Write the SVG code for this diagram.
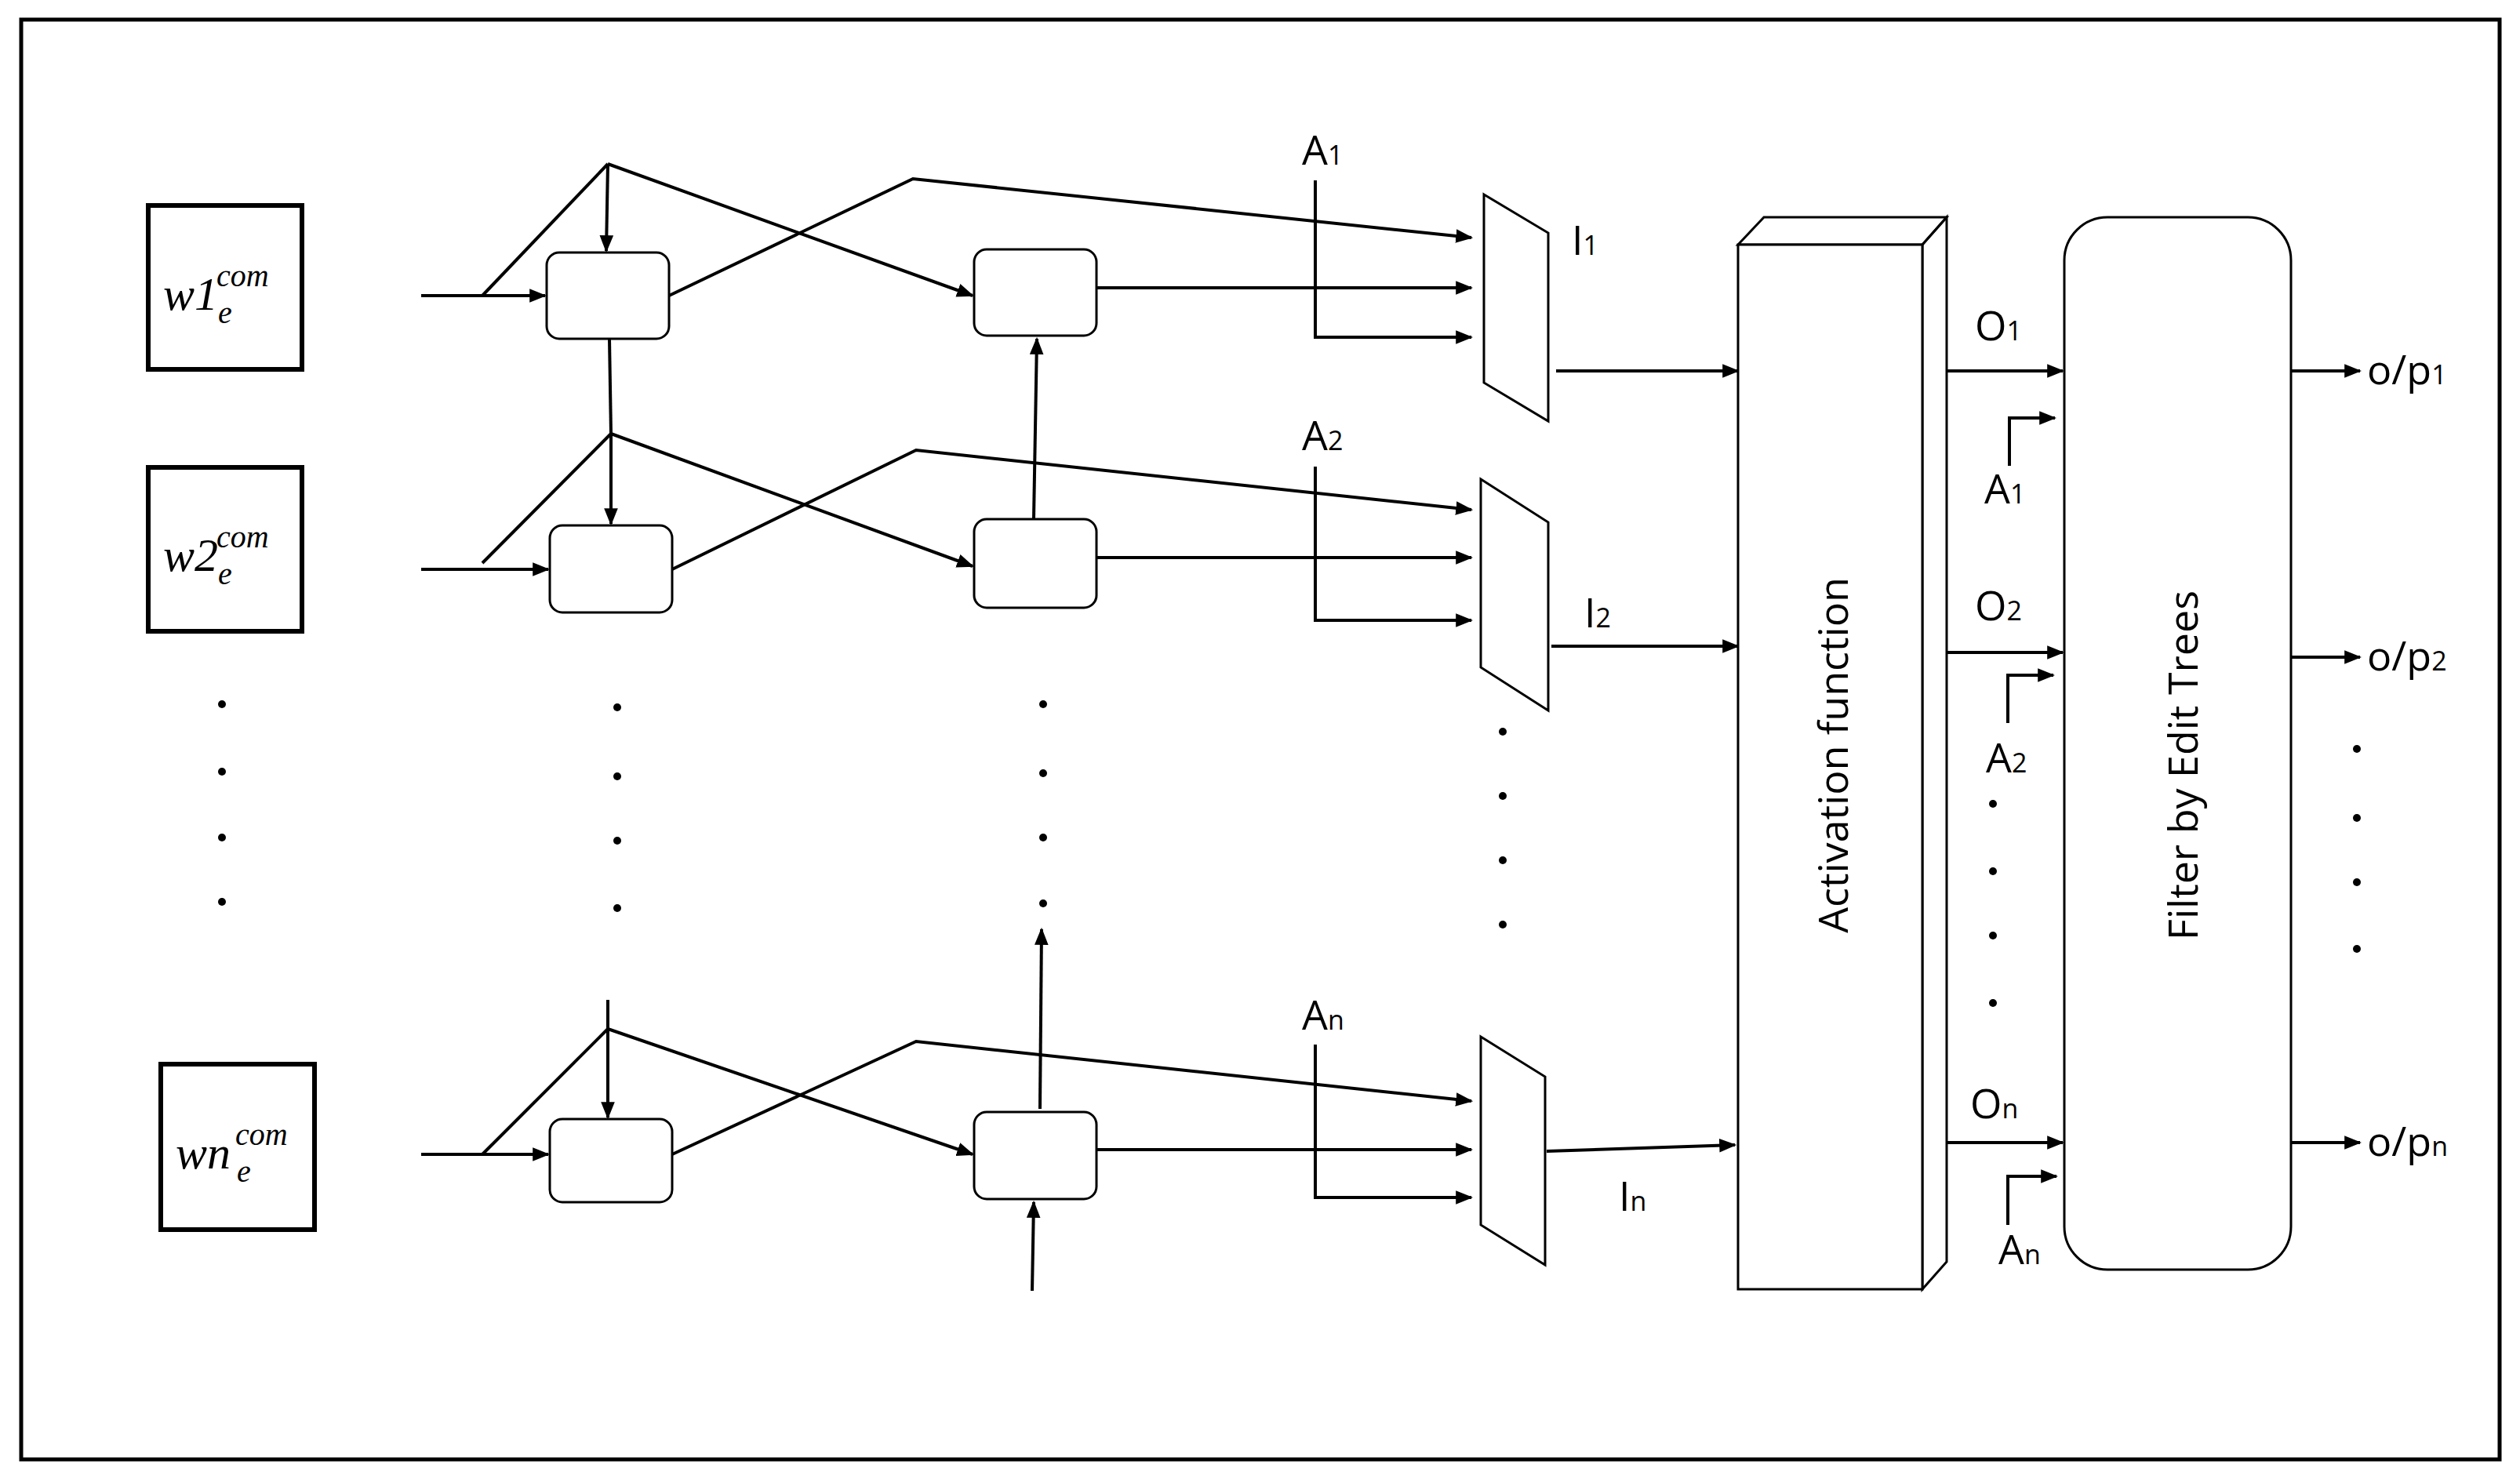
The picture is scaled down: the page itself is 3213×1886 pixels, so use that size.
<svg xmlns="http://www.w3.org/2000/svg" width="3213" height="1886" viewBox="0 0 3213 1886">
<style>
.l{fill:none;stroke:#000;stroke-width:4}
.a{fill:none;stroke:#000;stroke-width:4}
.t{fill:none;stroke:#000;stroke-width:3}
.lb{font-family:"Open Sans","Liberation Sans",Arial,sans-serif;font-size:52px;fill:#000}
.sb{font-size:34px}
.m{font-family:"Liberation Serif","Times New Roman",serif;font-style:italic;fill:#000}
.dot{fill:#000}
</style>
<defs>
<marker id="ah" viewBox="0 0 10 10" refX="9" refY="5" markerWidth="22" markerHeight="22" markerUnits="userSpaceOnUse" orient="auto">
<path d="M0,1 L10,5 L0,9 z" fill="#000"/>
</marker>
</defs>
<rect width="3213" height="1886" fill="#fff"/>
<rect x="27" y="25" width="3160" height="1836" fill="none" stroke="#000" stroke-width="5"/>

<g id="connectors">
<line class="a" marker-end="url(#ah)" x1="537" y1="377" x2="695" y2="377"/>
<line class="a" marker-end="url(#ah)" x1="537" y1="726" x2="699" y2="726"/>
<line class="a" marker-end="url(#ah)" x1="537" y1="1472" x2="699" y2="1472"/>
<line class="l" x1="615" y1="377" x2="775" y2="209"/>
<line class="a" marker-end="url(#ah)" x1="775" y1="209" x2="773" y2="320"/>
<line class="a" marker-end="url(#ah)" x1="775" y1="209" x2="1240" y2="377"/>
<polyline class="a" marker-end="url(#ah)" points="853,377 1164,228 1876,303"/>
<line class="a" marker-end="url(#ah)" x1="1398" y1="367" x2="1876" y2="367"/>
<polyline class="a" marker-end="url(#ah)" points="1677,230 1677,430 1876,430"/>
<line class="a" marker-end="url(#ah)" x1="1984" y1="473" x2="2216" y2="473"/>

<line class="l" x1="777" y1="432" x2="779" y2="553"/>
<line class="a" marker-end="url(#ah)" x1="779" y1="553" x2="779" y2="668"/>
<line class="l" x1="615" y1="718" x2="779" y2="553"/>
<line class="a" marker-end="url(#ah)" x1="779" y1="553" x2="1240" y2="722"/>
<polyline class="a" marker-end="url(#ah)" points="857,726 1168,574 1876,650"/>
<line class="a" marker-end="url(#ah)" x1="1398" y1="711" x2="1876" y2="711"/>
<polyline class="a" marker-end="url(#ah)" points="1677,595 1677,791 1876,791"/>
<line class="a" marker-end="url(#ah)" x1="1978" y1="824" x2="2216" y2="824"/>
<line class="a" marker-end="url(#ah)" x1="1318" y1="662" x2="1322" y2="432"/>

<line class="l" x1="775" y1="1275" x2="775" y2="1312"/>
<line class="a" marker-end="url(#ah)" x1="775" y1="1312" x2="775" y2="1425"/>
<line class="l" x1="615" y1="1472" x2="775" y2="1312"/>
<line class="a" marker-end="url(#ah)" x1="775" y1="1312" x2="1240" y2="1472"/>
<polyline class="a" marker-end="url(#ah)" points="857,1472 1168,1328 1876,1404"/>
<line class="a" marker-end="url(#ah)" x1="1398" y1="1466" x2="1876" y2="1466"/>
<polyline class="a" marker-end="url(#ah)" points="1677,1332 1677,1527 1876,1527"/>
<line class="a" marker-end="url(#ah)" x1="1972" y1="1468" x2="2212" y2="1460"/>
<line class="a" marker-end="url(#ah)" x1="1326" y1="1414" x2="1328" y2="1185"/>
<line class="a" marker-end="url(#ah)" x1="1316" y1="1646" x2="1318" y2="1533"/>

<line class="a" marker-end="url(#ah)" x1="2482" y1="473" x2="2630" y2="473"/>
<polyline class="a" marker-end="url(#ah)" points="2562,594 2562,533 2620,533"/>
<line class="a" marker-end="url(#ah)" x1="2482" y1="832" x2="2630" y2="832"/>
<polyline class="a" marker-end="url(#ah)" points="2560,922 2560,861 2618,861"/>
<line class="a" marker-end="url(#ah)" x1="2482" y1="1457" x2="2630" y2="1457"/>
<polyline class="a" marker-end="url(#ah)" points="2560,1562 2560,1500 2622,1500"/>
<line class="a" marker-end="url(#ah)" x1="2921" y1="473" x2="3009" y2="473"/>
<line class="a" marker-end="url(#ah)" x1="2921" y1="838" x2="3009" y2="838"/>
<line class="a" marker-end="url(#ah)" x1="2921" y1="1457" x2="3009" y2="1457"/>
</g>

<g id="w1"><rect x="189" y="262" width="196" height="209" fill="#fff" stroke="#000" stroke-width="6"/>
<text class="m" x="208" y="395" font-size="60">w1</text><text class="m" x="276" y="365" font-size="40">com</text><text class="m" x="278" y="412" font-size="40">e</text></g>
<g id="w2"><rect x="189" y="596" width="196" height="209" fill="#fff" stroke="#000" stroke-width="6"/>
<text class="m" x="208" y="728" font-size="60">w2</text><text class="m" x="276" y="698" font-size="40">com</text><text class="m" x="278" y="745" font-size="40">e</text></g>
<g id="wn"><rect x="205" y="1357" width="196" height="211" fill="#fff" stroke="#000" stroke-width="6"/>
<text class="m" x="224" y="1490" font-size="60">wn</text><text class="m" x="300" y="1460" font-size="40">com</text><text class="m" x="302" y="1507" font-size="40">e</text></g>

<g id="a1"><rect x="697" y="322" width="156" height="110" rx="16" fill="#fff" stroke="#000" stroke-width="3"/></g>
<g id="a2"><rect x="701" y="670" width="156" height="111" rx="16" fill="#fff" stroke="#000" stroke-width="3"/></g>
<g id="an"><rect x="701" y="1427" width="156" height="106" rx="16" fill="#fff" stroke="#000" stroke-width="3"/></g>
<g id="b1"><rect x="1242" y="318" width="156" height="110" rx="16" fill="#fff" stroke="#000" stroke-width="3"/></g>
<g id="b2"><rect x="1242" y="662" width="156" height="113" rx="16" fill="#fff" stroke="#000" stroke-width="3"/></g>
<g id="bn"><rect x="1242" y="1418" width="156" height="111" rx="16" fill="#fff" stroke="#000" stroke-width="3"/></g>

<g id="m1"><polygon class="t" points="1892,248 1974,297 1974,537 1892,488" fill="#fff"/></g>
<g id="m2"><polygon class="t" points="1888,611 1974,666 1974,906 1888,851" fill="#fff"/></g>
<g id="mn"><polygon class="t" points="1888,1322 1970,1373 1970,1613 1888,1562" fill="#fff"/></g>

<g id="act">
<polygon class="t" points="2216,312 2249,277 2482,277 2451,312" fill="#fff"/>
<polygon class="t" points="2451,312 2482,277 2482,1609 2451,1644" fill="#fff"/>
<rect x="2216" y="312" width="235" height="1332" fill="#fff" stroke="#000" stroke-width="3"/>
<text class="lb" font-size="64" text-anchor="middle" transform="translate(2356,963) rotate(-90)">Activation function</text>
</g>
<g id="filter">
<rect x="2632" y="277" width="289" height="1342" rx="55" fill="#fff" stroke="#000" stroke-width="3"/>
<text class="lb" font-size="58" text-anchor="middle" transform="translate(2802,976) rotate(-90)">Filter by Edit Trees</text>
</g>

<g id="labels">
<text class="lb" x="1660" y="210">A<tspan class="sb">1</tspan></text>
<text class="lb" x="1660" y="574">A<tspan class="sb">2</tspan></text>
<text class="lb" x="1660" y="1313">A<tspan class="sb">n</tspan></text>
<text class="lb" x="2004" y="325">I<tspan class="sb">1</tspan></text>
<text class="lb" x="2020" y="800">I<tspan class="sb">2</tspan></text>
<text class="lb" x="2064" y="1544">I<tspan class="sb">n</tspan></text>
<text class="lb" x="2518" y="434">O<tspan class="sb">1</tspan></text>
<text class="lb" x="2518" y="791">O<tspan class="sb">2</tspan></text>
<text class="lb" x="2512" y="1426">O<tspan class="sb">n</tspan></text>
<text class="lb" x="2530" y="642">A<tspan class="sb">1</tspan></text>
<text class="lb" x="2532" y="985">A<tspan class="sb">2</tspan></text>
<text class="lb" x="2548" y="1612">A<tspan class="sb">n</tspan></text>
<text class="lb" x="3018" y="490">o/p<tspan class="sb">1</tspan></text>
<text class="lb" x="3018" y="855">o/p<tspan class="sb">2</tspan></text>
<text class="lb" x="3018" y="1474">o/p<tspan class="sb">n</tspan></text>
</g>

<g id="dots" class="dot">
<circle cx="283" cy="898" r="5"/><circle cx="283" cy="984" r="5"/><circle cx="283" cy="1068" r="5"/><circle cx="283" cy="1150" r="5"/>
<circle cx="787" cy="902" r="5"/><circle cx="787" cy="990" r="5"/><circle cx="787" cy="1072" r="5"/><circle cx="787" cy="1158" r="5"/>
<circle cx="1330" cy="898" r="5"/><circle cx="1330" cy="986" r="5"/><circle cx="1330" cy="1068" r="5"/><circle cx="1330" cy="1152" r="5"/>
<circle cx="1916" cy="933" r="5"/><circle cx="1916" cy="1015" r="5"/><circle cx="1916" cy="1097" r="5"/><circle cx="1916" cy="1179" r="5"/>
<circle cx="2541" cy="1025" r="5"/><circle cx="2541" cy="1111" r="5"/><circle cx="2541" cy="1193" r="5"/><circle cx="2541" cy="1279" r="5"/>
<circle cx="3005" cy="955" r="5"/><circle cx="3005" cy="1043" r="5"/><circle cx="3005" cy="1125" r="5"/><circle cx="3005" cy="1210" r="5"/>
</g>
</svg>
